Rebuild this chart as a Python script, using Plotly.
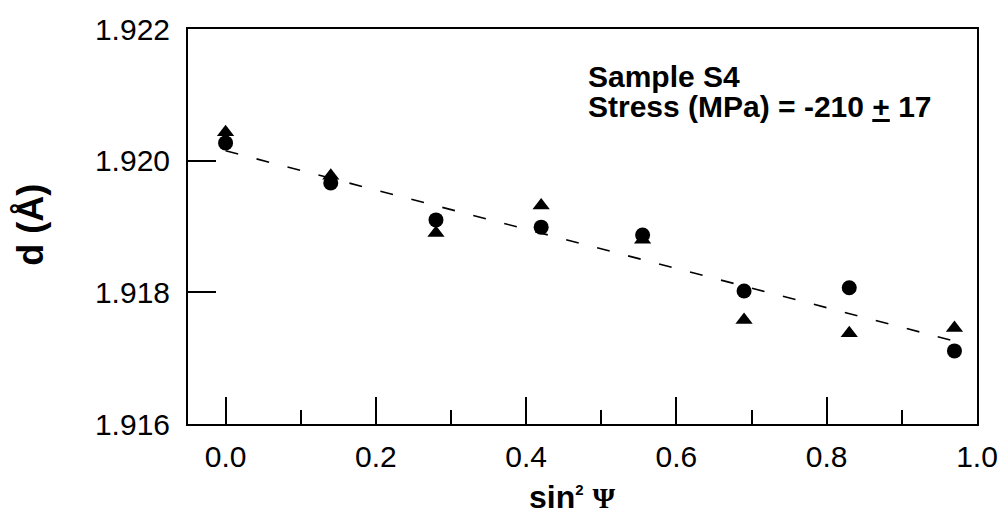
import plotly.graph_objects as go

# Data
sin2psi = [0.0, 0.14, 0.28, 0.42, 0.555, 0.69, 0.83, 0.97]
d_circle = [1.92027, 1.91966, 1.91910, 1.91899, 1.91887, 1.91802, 1.91807, 1.91711]
d_triangle = [1.92043, 1.91977, 1.91890, 1.91932, 1.91880, 1.91758, 1.91738, 1.91746]
fit_x = [0.0, 0.97]
fit_y = [1.92015, 1.91726]

x_ticks = [0.0, 0.2, 0.4, 0.6, 0.8, 1.0]
x_ticklabels = ["0.0", "0.2", "0.4", "0.6", "0.8", "1.0"]
y_ticks = [1.916, 1.918, 1.920, 1.922]
y_ticklabels = ["1.916", "1.918", "1.920", "1.922"]

FONT = "Liberation Sans, Arial, Helvetica, sans-serif"

fig = go.Figure()
fig.add_trace(go.Scatter(
    x=fit_x, y=fit_y, mode="lines",
    line=dict(color="black", width=1.6, dash="13px,19px"),
    showlegend=False, hoverinfo="skip"))
fig.add_trace(go.Scatter(
    x=sin2psi, y=d_triangle, mode="markers",
    marker=dict(symbol="triangle-up", size=15, color="black"),
    showlegend=False))
fig.add_trace(go.Scatter(
    x=sin2psi, y=d_circle, mode="markers",
    marker=dict(symbol="circle", size=15, color="black"),
    showlegend=False))

fig.update_layout(
    width=1005, height=517,
    margin=dict(l=188, r=28, t=29, b=93, autoexpand=False),
    paper_bgcolor="white", plot_bgcolor="white",
    font=dict(family=FONT, color="black"),
    xaxis=dict(
        range=[-0.05, 1.0], automargin=False,
        tickvals=x_ticks, ticktext=x_ticklabels,
        ticks="inside", ticklen=27, tickwidth=1.5, tickcolor="black",
        minor=dict(dtick=0.1, tick0=0, ticks="inside", ticklen=14, tickwidth=1.5,
                   tickcolor="black", showgrid=False),
        showline=True, linecolor="black", linewidth=2, mirror=True,
        showgrid=False, zeroline=False,
        tickfont=dict(size=30, family=FONT),
        ticklabelstandoff=5,
    ),
    yaxis=dict(
        range=[1.916, 1.922], automargin=False,
        tickvals=y_ticks, ticktext=y_ticklabels,
        ticks="inside", ticklen=28, tickwidth=1.5, tickcolor="black",
        showline=True, linecolor="black", linewidth=2, mirror=True,
        showgrid=False, zeroline=False,
        tickfont=dict(size=30, family=FONT),
        ticklabelstandoff=10,
    ),
    annotations=[
        dict(xref="paper", yref="paper", x=0.505, y=0.88, xanchor="left", yanchor="middle",
             align="left", showarrow=False, text="<b>Sample S4</b>",
             font=dict(size=30, family=FONT, color="black")),
        dict(xref="paper", yref="paper", x=0.505, y=0.803, xanchor="left", yanchor="middle",
             align="left", showarrow=False, text="<b>Stress (MPa) = -210 <u>+</u> 17</b>",
             font=dict(size=30, family=FONT, color="black")),
        dict(xref="paper", yref="paper", x=0.487, y=-0.185, xanchor="center", yanchor="middle",
             showarrow=False,
             text="<b>sin<sup><span style='font-size:15px'>2</span></sup> "
                  "<span style='font-family:Liberation Serif;font-size:29px'>Ψ</span></b>",
             font=dict(size=32, family=FONT, color="black")),
        dict(xref="paper", yref="paper", x=-0.2, y=0.505, xanchor="center", yanchor="middle",
             showarrow=False, text="<b>d (Å)</b>", textangle=-90,
             font=dict(size=36, family=FONT, color="black")),
    ],
)

fig.write_html("out.html", post_script="document.body.style.margin='0';",
               config={"displayModeBar": False})
